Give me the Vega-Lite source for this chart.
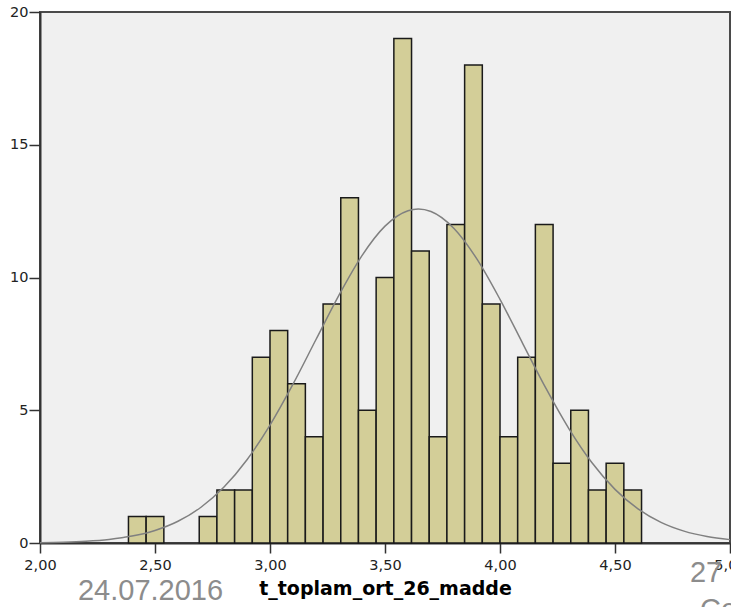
{
  "$schema": "https://vega.github.io/schema/vega-lite/v6.json",
  "width": 690,
  "height": 531,
  "autosize": {"type": "none"},
  "padding": {"left": 40, "top": 12, "right": 1, "bottom": 64},
  "background": "white",
  "config": {
    "view": {"fill": "#f0f0f0", "stroke": "#4a4a4a", "strokeWidth": 2},
    "axis": {"grid": false}
  },
  "datasets": {
    "bins": [
      {"start": 2.3846, "end": 2.4615, "count": 1},
      {"start": 2.4615, "end": 2.5385, "count": 1},
      {"start": 2.6923, "end": 2.7692, "count": 1},
      {"start": 2.7692, "end": 2.8462, "count": 2},
      {"start": 2.8462, "end": 2.9231, "count": 2},
      {"start": 2.9231, "end": 3.0, "count": 7},
      {"start": 3.0, "end": 3.0769, "count": 8},
      {"start": 3.0769, "end": 3.1538, "count": 6},
      {"start": 3.1538, "end": 3.2308, "count": 4},
      {"start": 3.2308, "end": 3.3077, "count": 9},
      {"start": 3.3077, "end": 3.3846, "count": 13},
      {"start": 3.3846, "end": 3.4615, "count": 5},
      {"start": 3.4615, "end": 3.5385, "count": 10},
      {"start": 3.5385, "end": 3.6154, "count": 19},
      {"start": 3.6154, "end": 3.6923, "count": 11},
      {"start": 3.6923, "end": 3.7692, "count": 4},
      {"start": 3.7692, "end": 3.8462, "count": 12},
      {"start": 3.8462, "end": 3.9231, "count": 18},
      {"start": 3.9231, "end": 4.0, "count": 9},
      {"start": 4.0, "end": 4.0769, "count": 4},
      {"start": 4.0769, "end": 4.1538, "count": 7},
      {"start": 4.1538, "end": 4.2308, "count": 12},
      {"start": 4.2308, "end": 4.3077, "count": 3},
      {"start": 4.3077, "end": 4.3846, "count": 5},
      {"start": 4.3846, "end": 4.4615, "count": 2},
      {"start": 4.4615, "end": 4.5385, "count": 3},
      {"start": 4.5385, "end": 4.6154, "count": 2}
    ],
    "curve": [
      {"x": 2.0, "y": 0.014},
      {"x": 2.1, "y": 0.032},
      {"x": 2.2, "y": 0.068},
      {"x": 2.3, "y": 0.136},
      {"x": 2.4, "y": 0.26},
      {"x": 2.5, "y": 0.473},
      {"x": 2.6, "y": 0.818},
      {"x": 2.7, "y": 1.346},
      {"x": 2.8, "y": 2.107},
      {"x": 2.9, "y": 3.137},
      {"x": 3.0, "y": 4.442},
      {"x": 3.1, "y": 5.982},
      {"x": 3.2, "y": 7.664},
      {"x": 3.3, "y": 9.339},
      {"x": 3.4, "y": 10.826},
      {"x": 3.5, "y": 11.935},
      {"x": 3.6, "y": 12.516},
      {"x": 3.645, "y": 12.58},
      {"x": 3.7, "y": 12.485},
      {"x": 3.8, "y": 11.846},
      {"x": 3.9, "y": 10.691},
      {"x": 4.0, "y": 9.177},
      {"x": 4.1, "y": 7.494},
      {"x": 4.2, "y": 5.82},
      {"x": 4.3, "y": 4.3},
      {"x": 4.4, "y": 3.021},
      {"x": 4.5, "y": 2.019},
      {"x": 4.6, "y": 1.284},
      {"x": 4.7, "y": 0.776},
      {"x": 4.8, "y": 0.447},
      {"x": 4.9, "y": 0.244},
      {"x": 5.0, "y": 0.127}
    ],
    "one": [{}]
  },
  "layer": [
    {
      "data": {"name": "bins"},
      "mark": {"type": "rect", "fill": "#d3ce98", "stroke": "#1a1a1a", "strokeWidth": 1.5},
      "encoding": {
        "x": {
          "field": "start",
          "type": "quantitative",
          "scale": {"domain": [2, 5], "nice": false, "zero": false},
          "axis": {
            "values": [2, 2.5, 3, 3.5, 4, 4.5, 5],
            "labelExpr": "replace(format(datum.value, '.2f'), '.', ',')",
            "labelFlush": false,
            "labelOverlap": false,
            "tickSize": 10,
            "tickColor": "#333333",
            "tickWidth": 1.5,
            "domainColor": "#333333",
            "domainWidth": 2,
            "labelPadding": 5,
            "labelFont": "DejaVu Sans",
            "labelFontSize": 14.5,
            "labelColor": "#222222",
            "title": "t_toplam_ort_26_madde",
            "titleFont": "DejaVu Sans",
            "titleFontWeight": "bold",
            "titleFontSize": 19,
            "titleColor": "#000000",
            "titlePadding": 8
          }
        },
        "x2": {"field": "end"},
        "y": {
          "field": "count",
          "type": "quantitative",
          "scale": {"domain": [0, 20], "nice": false},
          "axis": {
            "values": [0, 5, 10, 15, 20],
            "format": "d",
            "tickSize": 11,
            "tickColor": "#333333",
            "tickWidth": 1.5,
            "domainColor": "#333333",
            "domainWidth": 2,
            "labelPadding": 1,
            "labelFont": "DejaVu Sans",
            "labelFontSize": 14.5,
            "labelColor": "#222222",
            "title": null
          }
        },
        "y2": {"datum": 0}
      }
    },
    {
      "data": {"name": "curve"},
      "mark": {"type": "line", "stroke": "#808080", "strokeWidth": 1.5, "interpolate": "monotone"},
      "encoding": {
        "x": {"field": "x", "type": "quantitative"},
        "y": {"field": "y", "type": "quantitative"}
      }
    },
    {
      "data": {"name": "one"},
      "mark": {"type": "text", "align": "left", "baseline": "alphabetic", "font": "Liberation Sans", "fontSize": 29, "color": "#8c8c8c"},
      "encoding": {
        "x": {"datum": 2.165, "type": "quantitative"},
        "y": {"datum": -2.15, "type": "quantitative"},
        "text": {"value": "24.07.2016"}
      }
    },
    {
      "data": {"name": "one"},
      "mark": {"type": "text", "align": "left", "baseline": "alphabetic", "font": "Liberation Sans", "fontSize": 29, "color": "#8c8c8c"},
      "encoding": {
        "x": {"datum": 4.826, "type": "quantitative"},
        "y": {"datum": -1.47, "type": "quantitative"},
        "text": {"value": "27"}
      }
    },
    {
      "data": {"name": "one"},
      "mark": {"type": "text", "align": "left", "baseline": "alphabetic", "font": "Liberation Sans", "fontSize": 29, "color": "#8c8c8c"},
      "encoding": {
        "x": {"datum": 4.87, "type": "quantitative"},
        "y": {"datum": -2.85, "type": "quantitative"},
        "text": {"value": "Co"}
      }
    }
  ]
}
